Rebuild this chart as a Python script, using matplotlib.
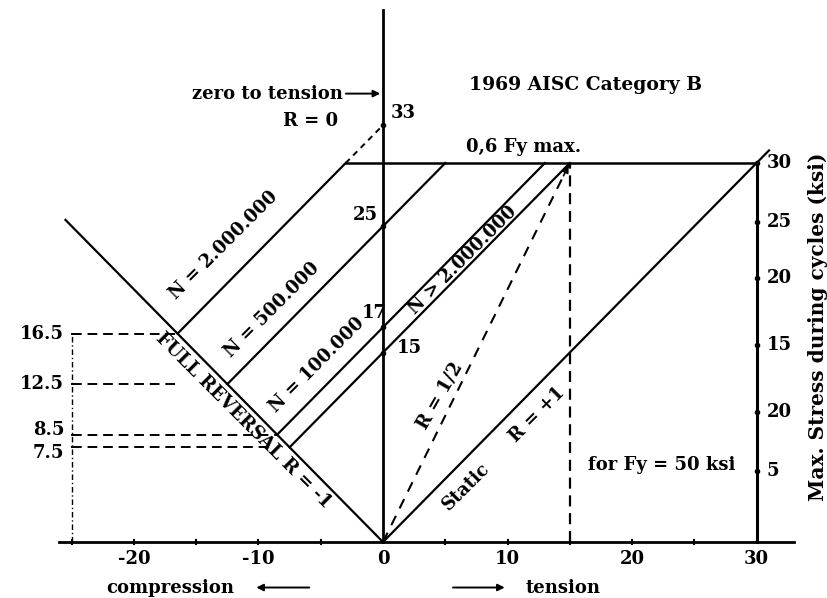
import matplotlib
matplotlib.use("Agg")
import matplotlib.pyplot as plt

# fatigue diagram, 1969 AISC category B, Fy = 50 ksi

# stress range at full reversal for each life (ksi)
reversal_stress = [16.5, 12.5, 8.5, 7.5]
life_labels = ["N = 2.000.000", "N = 500.000", "N = 100.000", "N > 2.000.000"]
# where each life label sits (x, y)
life_label_pos = [(-12.8, 23.5), (-8.9, 18.4), (-5.3, 14.0), (6.4, 22.3)]
# intercepts on the zero axis
intercepts = [33, 25, 17, 15]
intercept_label_pos = [(0.6, 34.0), (-2.4, 25.9), (-1.7, 18.1), (1.1, 15.4)]
# how far left each dashed guide reaches, and label nudges
guide_end = [-16.5, -16.6, -8.5, -9.1]
label_nudge = [0, 0, 0.35, -0.45]

fy_max = 30
r_half_top = 15
x_ticks = [-20, -10, 0, 10, 20, 30]
x_minor = [-25, -20, -15, -10, -5, 5, 10, 15, 20, 25]
right_ticks = [30, 25.3, 20.9, 15.6, 10.3, 5.6]
right_labels = ["30", "25", "20", "15", "20", "5"]

plt.rcParams["font.family"] = ["DejaVu Serif"]
plt.rcParams["font.weight"] = "bold"
fs = 13

fig = plt.figure(figsize=(8.27, 5.98), dpi=100)
ax = fig.add_axes([0, 0, 1, 1])
ax.set_xlim(-30.76, 35.66)
ax.set_ylim(-4.43, 42.91)
ax.axis("off")

k = "black"

# axes lines
ax.plot([-26, 33], [0, 0], color=k, lw=2)
ax.plot([0, 0], [0, 42.1], color=k, lw=2)
ax.plot([30, 30], [0, fy_max], color=k, lw=2.2)
for t in x_minor:
    ax.plot([t, t], [-0.15, 0.15], color=k, lw=1.5)
for t, lab in zip(x_ticks, ["-20", "-10", "0", "10", "20", "30"]):
    ax.text(t, -0.6, lab, ha="center", va="top", fontsize=fs)

# right scale
for t, lab in zip(right_ticks, right_labels):
    ax.plot([30], [t], marker="o", ms=3, color=k)
    ax.text(30.8, t, lab, ha="left", va="center", fontsize=fs)
ax.text(34.9, 17.0, "Max. Stress during cycles (ksi)", rotation=90,
        ha="center", va="center", fontsize=14.5)

# full reversal, static line, 0.6 Fy limit
ax.plot([0, -25.5], [0, 25.5], color=k, lw=1.6)
ax.plot([0, 31], [0, 31], color=k, lw=1.6)
ax.plot([fy_max - intercepts[0], 30], [fy_max, fy_max], color=k, lw=1.8)

# constant life lines
for s, b in zip(reversal_stress, intercepts):
    x_top = fy_max - b
    ax.plot([-s, x_top], [s, fy_max], color=k, lw=1.6)
    ax.plot([0], [b], marker="o", ms=3, color=k)

for lab, (x, y) in zip(life_labels, life_label_pos):
    ax.text(x, y, lab, rotation=45, ha="center", va="center", fontsize=fs)
for b, (x, y) in zip(intercepts, intercept_label_pos):
    ax.text(x, y, str(b), ha="left", va="center", fontsize=fs)

# dashed guides to the left scale
ax.plot([-25, -25], [0, reversal_stress[0]], color=k, lw=1,
        linestyle=(0, (4, 2, 1, 2)))
for s, xe, dy in zip(reversal_stress, guide_end, label_nudge):
    ax.plot([-25, xe], [s, s], color=k, lw=1.4, linestyle=(0, (5, 3)))
    ax.plot([-25, -24.6], [s, s], color=k, lw=1.4)
    ax.text(-25.6, s + dy, str(s), ha="right", va="center", fontsize=fs)

# zero to tension R = 0
ax.plot([fy_max - intercepts[0], 0], [fy_max, intercepts[0]], color=k,
        lw=1.4, linestyle=(0, (3, 2.5)))
ax.annotate("", xy=(0, 35.5), xytext=(-3.2, 35.5),
            arrowprops=dict(arrowstyle="-|>", color=k, lw=1.4))
ax.text(-3.2, 35.5, "zero to tension", ha="right", va="center", fontsize=fs)
ax.text(-3.6, 33.3, "R = 0", ha="right", va="center", fontsize=fs)

# R = 1/2 and the x = 15 drop
ax.plot([0, r_half_top], [0, fy_max], color=k, lw=1.5, linestyle=(0, (5, 4)))
ax.plot([r_half_top, r_half_top], [0, fy_max], color=k, lw=1.6,
        linestyle=(0, (5, 3)))
ax.annotate("", xy=(r_half_top, fy_max), xytext=(r_half_top - 0.6, fy_max - 1.2),
            arrowprops=dict(arrowstyle="-|>", color=k, lw=1.2))

ax.text(-11.2, 9.6, "FULL REVERSAL R = -1", rotation=-45, ha="center",
        va="center", fontsize=fs)
ax.text(4.6, 11.6, "R = 1/2", rotation=60, ha="center", va="center", fontsize=fs)
ax.text(12.4, 10.1, "R = +1", rotation=45, ha="center", va="center", fontsize=fs)
ax.text(6.7, 4.4, "Static", rotation=45, ha="center", va="center", fontsize=fs)
ax.text(22.4, 6.1, "for Fy = 50 ksi", ha="center", va="center", fontsize=fs)

ax.text(16.3, 36.2, "1969 AISC Category B", ha="center", va="center", fontsize=13.5)
ax.text(6.7, 31.3, "0,6 Fy max.", ha="left", va="center", fontsize=fs)

# compression / tension arrows
ax.text(-17.1, -3.6, "compression", ha="center", va="center", fontsize=fs)
ax.annotate("", xy=(-10.4, -3.6), xytext=(-5.7, -3.6),
            arrowprops=dict(arrowstyle="-|>", color=k, lw=1.4))
ax.annotate("", xy=(10.0, -3.6), xytext=(5.4, -3.6),
            arrowprops=dict(arrowstyle="-|>", color=k, lw=1.4))
ax.text(14.5, -3.6, "tension", ha="center", va="center", fontsize=fs)

fig.savefig("out.png", dpi=100)
